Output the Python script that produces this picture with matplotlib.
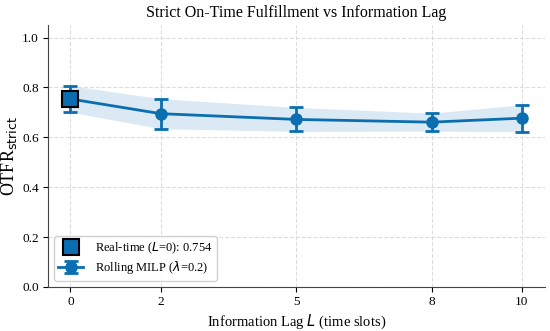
import numpy as np
import matplotlib.pyplot as plt

lags = [0, 2, 5, 8, 10]
otfr_mean = [0.754, 0.695, 0.672, 0.661, 0.677]
otfr_std = [0.053, 0.060, 0.048, 0.036, 0.054]
realtime_value = 0.754

plt.rcParams['font.family'] = ['Liberation Serif', 'DejaVu Sans']

color = '#0a6eb0'

fig = plt.figure(figsize=(5.5, 3.31), dpi=100)
ax = fig.add_axes([0.087, 0.133, 0.903, 0.791])

mean = np.array(otfr_mean)
std = np.array(otfr_std)
ax.fill_between(lags, mean - std, mean + std, color=color, alpha=0.15, linewidth=0)
eb = ax.errorbar(lags, mean, yerr=std, color=color, marker='o', markersize=8, linewidth=2,
                 capsize=5, capthick=2, elinewidth=2, zorder=3)
sq, = ax.plot([0], [realtime_value], marker='s', markersize=12, color=color, markeredgecolor='black',
              markeredgewidth=1.5, linestyle='none', zorder=4)

ax.set_xlim(-0.5, 10.5)
ax.set_ylim(0, 1.05)
ax.set_xticks(lags)
ax.set_yticks([0.0, 0.2, 0.4, 0.6, 0.8, 1.0])
ax.tick_params(labelsize=9.5, pad=3)
ax.grid(True, linestyle='--', color='#dddddd', linewidth=0.8)
ax.spines['top'].set_visible(False)
ax.spines['right'].set_visible(False)
ax.spines['left'].set_color('#444444')
ax.spines['bottom'].set_color('#444444')

ax.set_xlabel(r'Information Lag $L$ (time slots)', fontsize=10.5, labelpad=3)
ax.set_ylabel(r'OTFR$_{\mathrm{strict}}$', fontsize=13, labelpad=2)
ax.set_title('Strict On-Time Fulfillment vs Information Lag', fontsize=11.5)

ax.legend([sq, eb], [r'Real-time ($L$=0): %.3f' % realtime_value, r'Rolling MILP ($\lambda$=0.2)'],
          loc='lower left', fontsize=9, framealpha=0.9, labelspacing=0.25, borderpad=0.35,
          handletextpad=0.9)

plt.savefig('out.png')
